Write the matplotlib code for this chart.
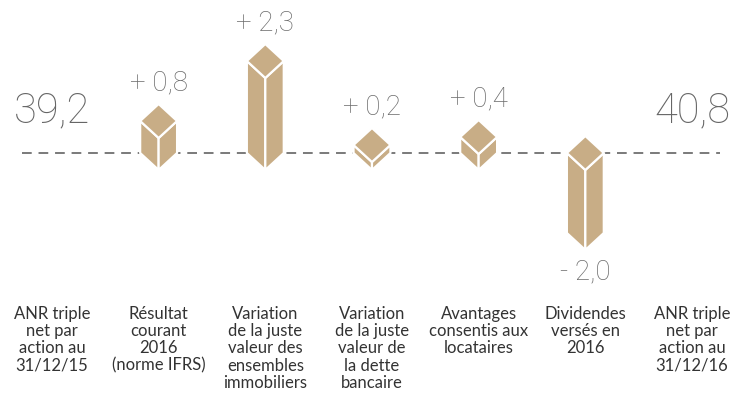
import matplotlib.pyplot as plt
from matplotlib.patches import Polygon

plt.rcParams["font.family"] = ["Lato", "DejaVu Sans"]

categories = [
    "ANR triple\nnet par\naction au\n31/12/15",
    "Résultat\ncourant\n2016\n(norme IFRS)",
    "Variation\nde la juste\nvaleur des\nensembles\nimmobiliers",
    "Variation\nde la juste\nvaleur de\nla dette\nbancaire",
    "Avantages\nconsentis aux\nlocataires",
    "Dividendes\nversés en\n2016",
    "ANR triple\nnet par\naction au\n31/12/16",
]
start_value = 39.2
end_value = 40.8
changes = [0.8, 2.3, 0.2, 0.4, -2.0]

box_color = "#c8ad86"
num_font = ["Roboto", "DejaVu Sans"]
w = 0.173   # half width of a prism, in category units
h = 0.425   # half height of the diamond top, in value units


def fmt(v):
    return f"{v:.1f}".replace(".", ",")


def draw_prism(ax, x, v):
    top = max(0, v)
    bot = min(0, v)
    faces = [
        [(x - w, top), (x, top - h), (x, bot - h), (x - w, bot)],
        [(x + w, top), (x, top - h), (x, bot - h), (x + w, bot)],
        [(x, top + h), (x - w, top), (x, top - h), (x + w, top)],
    ]
    for f in faces:
        ax.add_patch(Polygon(f, closed=True, facecolor=box_color,
                             edgecolor="white", linewidth=1.6,
                             joinstyle="miter", zorder=3))
    sign = "+" if v > 0 else "-"
    label = f"{sign} {fmt(abs(v))}"
    if v > 0:
        ax.text(x, top + h + 0.2, label, ha="center", va="bottom",
                fontsize=20, color="#6b6b6b", family=num_font,
                fontweight="light")
    else:
        ax.text(x, bot - h - 0.2, label, ha="center", va="top",
                fontsize=20, color="#6b6b6b", family=num_font,
                fontweight="light")


fig = plt.figure(figsize=(7.43, 4.12), dpi=100)
ax = fig.add_axes([0, 0, 1, 1])
ax.set_xlim(-0.487, 6.478)
ax.set_ylim(-6.475, 3.825)
ax.axis("off")

# baseline
ax.plot([-0.28, 6.26], [0, 0], color="#7a7a7a", linewidth=1.4,
        dashes=(5, 3.5), zorder=1)

for i, v in enumerate(changes):
    draw_prism(ax, i + 1, v)

ax.text(0, 1.05, fmt(start_value), ha="center", va="center",
        fontsize=30, color="#666666", family=num_font, fontweight="light")
ax.text(6, 1.05, fmt(end_value), ha="center", va="center",
        fontsize=30, color="#666666", family=num_font, fontweight="light")

for i, cat in enumerate(categories):
    ax.text(i, -3.82, cat, ha="center", va="top", fontsize=12,
            color="#333333", linespacing=1.1)

fig.savefig("out.png", dpi=100)
